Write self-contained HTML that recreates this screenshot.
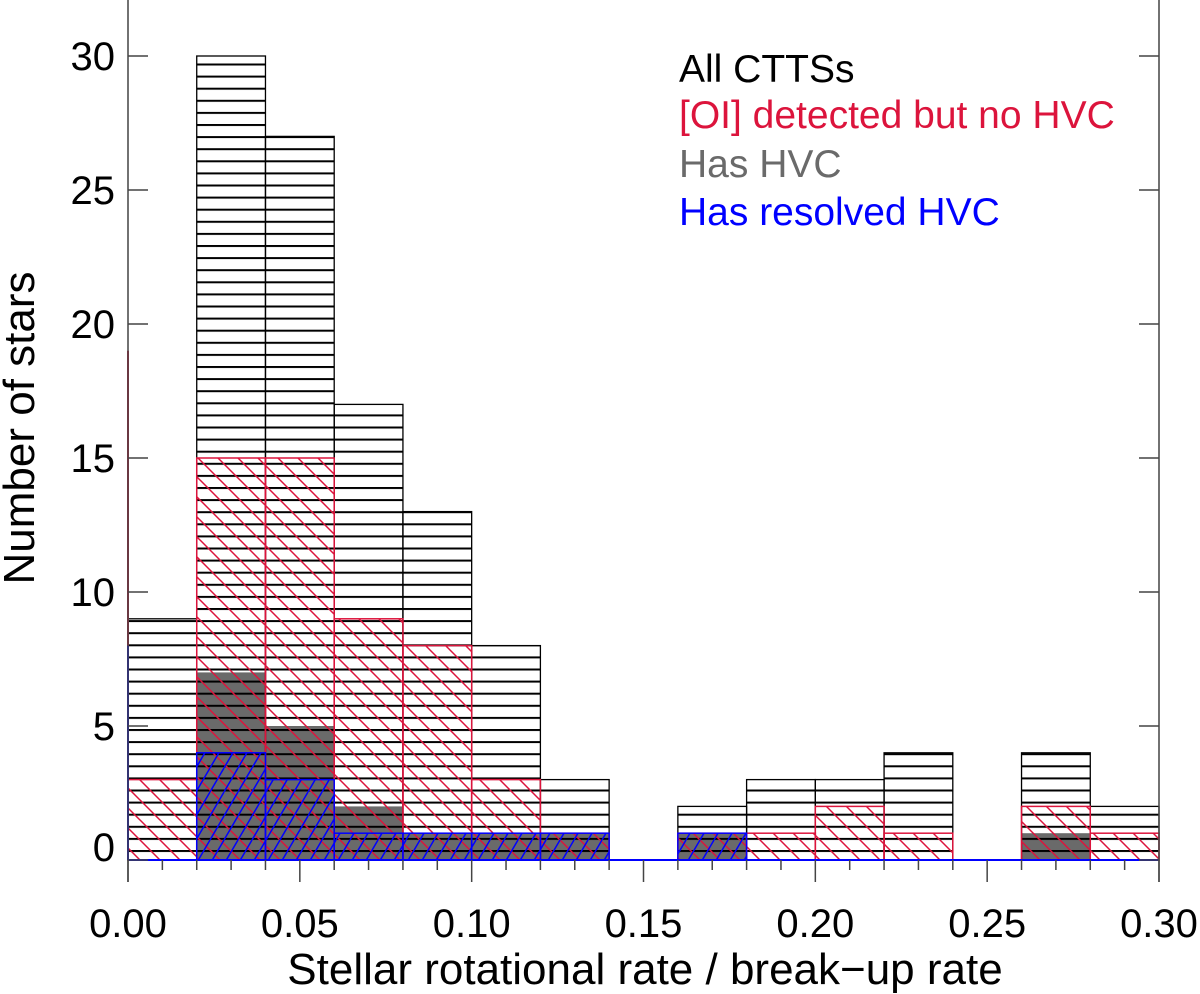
<!DOCTYPE html>
<html><head><meta charset="utf-8"><style>
html,body{margin:0;padding:0;background:#fff;}
svg{display:block;font-family:"Liberation Sans",sans-serif;}
</style></head><body>
<svg id="chart" width="1200" height="994">
<defs>
<pattern id="hH" patternUnits="userSpaceOnUse" width="20" height="12.1" y="3"><rect x="0" y="0" width="20" height="2" fill="#000"/></pattern>
<pattern id="hR" patternUnits="userSpaceOnUse" width="20" height="20"><path d="M-5,-5 L25,25 M-5,15 L5,25 M15,-5 L25,5" stroke="#dc143c" stroke-width="1.5"/></pattern>
<pattern id="hB" patternUnits="userSpaceOnUse" width="14" height="24"><path d="M0,24 L14,0 M-7,12 L0,0 M14,24 L21,12" stroke="#0000ff" stroke-width="1.5"/></pattern>
</defs>
<g id="marks"></g>
<g id="axes"></g>
<g font-size="39">
<text x="679" y="82" fill="#000">All CTTSs</text>
<text x="679" y="128" fill="#dc143c">[OI] detected but no HVC</text>
<text x="679" y="177" fill="#6a6a6a">Has HVC</text>
<text x="679" y="225" fill="#0000ff">Has resolved HVC</text>
</g>
<text x="645" y="984" font-size="44" text-anchor="middle">Stellar rotational rate / break−up rate</text>
<text transform="translate(34,428) rotate(-90)" font-size="44" text-anchor="middle">Number of stars</text>
</svg>
<script>
const binStarts=[0,0.02,0.04,0.06,0.08,0.10,0.12,0.14,0.16,0.18,0.20,0.22,0.24,0.26,0.28];
const allCTTS=[9,30,27,17,13,8,3,0,2,3,3,4,0,4,2];
const oiNoHVC=[3,15,15,9,8,3,1,0,1,1,2,1,0,2,1];
const hasHVC=[0,7,5,2,1,1,1,0,1,0,0,0,0,1,0];
const resolvedHVC=[0,4,3,1,1,1,1,0,1,0,0,0,0,0,0];
const xTicks=[0,0.05,0.10,0.15,0.20,0.25,0.30];
const yTicks=[0,5,10,15,20,25,30];
const binW=0.02;
const X=v=>128+v*(1159-128)/0.3;
const Y=v=>860-v*26.8;
const NS="http://www.w3.org/2000/svg";
const marks=document.getElementById('marks'), axes=document.getElementById('axes');
function mk(tag,attrs,parent){const e=document.createElementNS(NS,tag);for(const k in attrs)e.setAttribute(k,attrs[k]);parent.appendChild(e);return e;}
function series(vals,fill,stroke,name,sw){
  vals.forEach((v,i)=>{ if(v<=0) return;
    const r=mk('rect',{x:X(binStarts[i]),y:Y(v),width:X(binStarts[i]+binW)-X(binStarts[i]),height:Y(0)-Y(v),fill:fill,stroke:stroke,'stroke-width':sw},marks);
    
    
  });
}
series(hasHVC,'#6a6a6a','none','has-hvc',0);
series(allCTTS,'url(#hH)','#000','all-cttss',1.3);
series(oiNoHVC,'url(#hR)','#dc143c','oi-no-hvc',1.5);
series(resolvedHVC,'url(#hB)','#0000ff','resolved-hvc',1.5);
mk('line',{x1:128,y1:Y(19),x2:128,y2:Y(0),stroke:'#dc143c','stroke-width':2},marks);
mk('line',{x1:128,y1:Y(8),x2:128,y2:Y(0),stroke:'#0000ff','stroke-width':2},marks);
mk('line',{x1:128,y1:Y(0),x2:1159,y2:Y(0),stroke:'#0000ff','stroke-width':2},marks);
const la=mk('line',{x1:128,y1:0,x2:128,y2:882,stroke:'#444','stroke-width':1.5},axes);


const ra=mk('line',{x1:1159,y1:0,x2:1159,y2:882,stroke:'#444','stroke-width':1.5},axes);


for(let i=0;i<=30;i++){const v=i*0.01,x=X(v),maj=i%5===0;
  mk('line',{x1:x,y1:860,x2:x,y2:maj?882:870,stroke:'#444','stroke-width':1.5},axes);}
xTicks.forEach(v=>{const t=mk('text',{x:X(v),y:937,'font-size':40,'text-anchor':'middle'},axes);t.textContent=v.toFixed(2);
  
  });
yTicks.forEach(v=>{const y=Y(v);
  mk('line',{x1:128,y1:y,x2:148,y2:y,stroke:'#444','stroke-width':1.5},axes);
  mk('line',{x1:1139,y1:y,x2:1159,y2:y,stroke:'#444','stroke-width':1.5},axes);
  const t=mk('text',{x:115,y:(v===0?847:y)+14,'font-size':40,'text-anchor':'end'},axes);t.textContent=v;
  
  });
</script>
</body></html>
